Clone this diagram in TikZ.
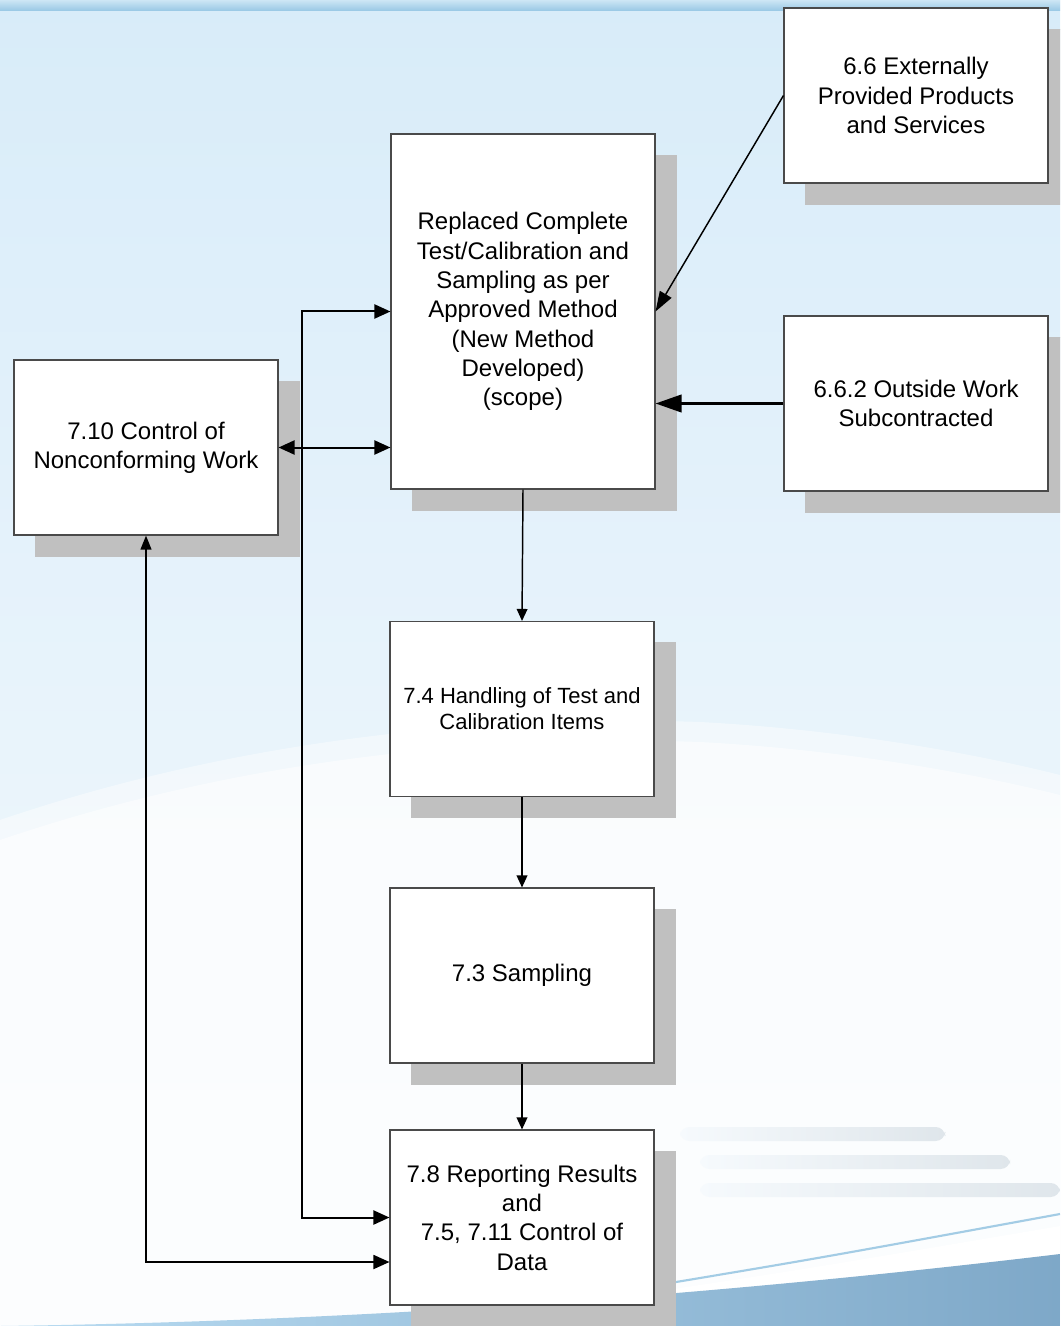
\documentclass[tikz,border=0pt]{standalone}
\usepackage{fontspec}
\setmainfont{Liberation Sans}
\usetikzlibrary{arrows.meta,shadows,calc}
\definecolor{shadowgray}{HTML}{C0C0C0}
\definecolor{boxline}{HTML}{4A4A4A}
\definecolor{bgtop}{HTML}{D8ECF9}
\definecolor{bgmid}{HTML}{E6F0F7}
\definecolor{bgbot}{HTML}{F6FAFD}
\definecolor{bandA}{HTML}{CDE6F5}
\definecolor{bandB}{HTML}{97C7E4}
\definecolor{swA}{HTML}{B9DCF2}
\definecolor{swB}{HTML}{7EA8C8}
\definecolor{swline}{HTML}{A3CCE5}
\definecolor{barcol}{HTML}{DFE6EB}
\begin{document}
\begin{tikzpicture}[x=0.75pt,y=-0.75pt,
  procbox/.style={draw=boxline, line width=0.8pt, fill=white,
    minimum width=198pt, minimum height=131.25pt, inner sep=2pt,
    align=center, font=\fontsize{18pt}{22pt}\selectfont,
    drop shadow={shadow xshift=16pt, shadow yshift=-16pt, opacity=1,
      fill=shadowgray, draw=shadowgray}},
  tallbox/.style={procbox, minimum height=266.25pt},
  smalltext/.style={font=\fontsize{16.5pt}{19.5pt}\selectfont},
  flow/.style={line width=1.1pt, -{Triangle[length=9pt, width=8pt]}},
  feed/.style={line width=1.1pt, -{Triangle[length=15pt, width=10pt]}},
  heavyfeed/.style={line width=2.25pt, -{Triangle[length=19.5pt, width=13pt]}},
  link/.style={line width=1.5pt, {Triangle[length=12pt, width=10.5pt]}-{Triangle[length=12pt, width=10.5pt]}},
  backlink/.style={line width=1.3pt, {Triangle[length=10.5pt, width=8pt]}-{Triangle[length=12pt, width=10.5pt]}}
]
\clip (0,0) rectangle (1060,1326);

% ---- backdrop ----
\shade[top color=bgtop, middle color=bgmid, bottom color=bgbot] (0,0) rectangle (1060,1326);
\shade[top color=bandA, bottom color=bandB] (0,0) rectangle (1060,11);
% pale dome across the lower half
\fill[white, opacity=0.45] (0,820) .. controls (250,735) and (500,715) .. (700,722)
  .. controls (850,730) and (980,755) .. (1060,775) -- (1060,1326) -- (0,1326) -- cycle;
\fill[white, opacity=0.55] (0,840) .. controls (250,755) and (500,735) .. (700,742)
  .. controls (850,750) and (980,775) .. (1060,795) -- (1060,1326) -- (0,1326) -- cycle;
% faded streaks on the right
\shade[left color=bgbot, right color=barcol, rounded corners=7pt] (680,1127) rectangle (945,1141);
\shade[left color=bgbot, right color=barcol, rounded corners=7pt] (700,1155) rectangle (1010,1169);
\shade[left color=bgbot, right color=barcol, rounded corners=7pt] (700,1183) rectangle (1060,1197);
% swoosh at the bottom
\fill[white] (600,1300) .. controls (800,1270) .. (1060,1226) -- (1060,1256) .. controls (800,1290) .. (600,1310) -- cycle;
\draw[swline, line width=1.6pt] (640,1288) .. controls (820,1258) .. (1060,1214);
\shade[left color=swA, right color=swB] (0,1326) .. controls (300,1322) and (650,1303) .. (1060,1254)
  -- (1060,1326) -- cycle;

% ---- process boxes ----
\node[tallbox] (method) at (523,311.5) {Replaced Complete\\Test/Calibration and\\Sampling as per\\Approved Method\\(New Method\\Developed)\\(scope)};
\node[procbox] (ext) at (916,95.5) {6.6 Externally\\Provided Products\\and Services};
\node[procbox] (sub) at (916,403.5) {6.6.2 Outside Work\\Subcontracted};
\node[procbox] (nc) at (146,447.5) {7.10 Control of\\Nonconforming Work};
\node[procbox, smalltext] (hand) at (522,709) {7.4 Handling of Test and\\Calibration Items};
\node[procbox] (samp) at (522,975.5) {7.3 Sampling};
\node[procbox] (rep) at (522,1217.5) {7.8 Reporting Results\\and\\7.5, 7.11 Control of\\Data};

% ---- connectors ----
\coordinate (busx) at (302,0);
\coordinate (lowin) at ($(rep.west)+(0,44.5)$);

\draw[flow] (method.south) -- (hand.north);
\draw[flow] (hand.south) -- (samp.north);
\draw[flow] (samp.south) -- (rep.north);
\draw[feed] (ext.west) -- (method.east);
\draw[heavyfeed] (sub.west) -- (sub.west -| method.east);
\draw[link] (nc.east) -- (nc.east -| method.west);
\draw[link] (method.west) -- (method.west -| busx) |- (rep.west);
\draw[backlink] (nc.south) |- (lowin);
\end{tikzpicture}
\end{document}
